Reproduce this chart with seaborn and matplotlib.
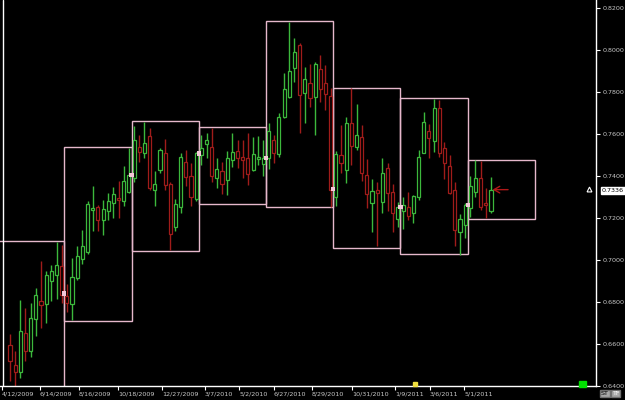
import matplotlib
matplotlib.use("Agg")
import matplotlib.pyplot as plt
import matplotlib.patches as mpatches
from matplotlib import font_manager
import seaborn as sns
import pandas as pd
import numpy as np

# ---- weekly candles (index 1..94) ----
opens = [0.6597, 0.6502, 0.6468, 0.6655, 0.6566, 0.6721, 0.6803, 0.6792, 0.6899, 0.6927,
         0.6970, 0.6831, 0.6792, 0.6915, 0.7005, 0.7037, 0.7240, 0.7255, 0.7192, 0.7236,
         0.7274, 0.7298, 0.7284, 0.7327, 0.7390, 0.7538, 0.7509, 0.7592, 0.7332, 0.7430,
         0.7512, 0.7363, 0.7157, 0.7253, 0.7468, 0.7401, 0.7291, 0.7501, 0.7552, 0.7538,
         0.7393, 0.7425, 0.7382, 0.7478, 0.7520, 0.7493, 0.7489, 0.7430, 0.7481, 0.7459,
         0.7486, 0.7573, 0.7506, 0.7681, 0.7776, 0.7914, 0.8025, 0.7795, 0.7842, 0.7776,
         0.7909, 0.7842, 0.7782, 0.7303, 0.7501, 0.7432, 0.7654, 0.7541, 0.7588, 0.7405,
         0.7273, 0.7335, 0.7279, 0.7438, 0.7327, 0.7195, 0.7236, 0.7255, 0.7227, 0.7300,
         0.7509, 0.7617, 0.7569, 0.7724, 0.7533, 0.7449, 0.7335, 0.7132, 0.7168, 0.7248,
         0.7327, 0.7390, 0.7273, 0.7236]
highs = [0.6650, 0.6566, 0.6812, 0.6773, 0.6797, 0.6869, 0.6994, 0.6946, 0.6975, 0.7086,
         0.7073, 0.6888, 0.7010, 0.7065, 0.7145, 0.7283, 0.7351, 0.7263, 0.7287, 0.7319,
         0.7348, 0.7379, 0.7449, 0.7535, 0.7639, 0.7597, 0.7660, 0.7628, 0.7425, 0.7535,
         0.7576, 0.7373, 0.7291, 0.7509, 0.7525, 0.7462, 0.7517, 0.7597, 0.7605, 0.7631,
         0.7489, 0.7469, 0.7520, 0.7605, 0.7573, 0.7573, 0.7605, 0.7588, 0.7593, 0.7573,
         0.7656, 0.7597, 0.7703, 0.7893, 0.8136, 0.8057, 0.8034, 0.7921, 0.7934, 0.7945,
         0.7977, 0.7930, 0.7819, 0.7520, 0.7644, 0.7682, 0.7819, 0.7743, 0.7646, 0.7484,
         0.7389, 0.7374, 0.7486, 0.7462, 0.7363, 0.7279, 0.7300, 0.7327, 0.7311, 0.7525,
         0.7707, 0.7649, 0.7766, 0.7763, 0.7565, 0.7501, 0.7374, 0.7221, 0.7272, 0.7401,
         0.7478, 0.7474, 0.7343, 0.7398]
lows = [0.6423, 0.6383, 0.6436, 0.6521, 0.6537, 0.6640, 0.6677, 0.6702, 0.6807, 0.6816,
        0.6797, 0.6754, 0.6716, 0.6907, 0.6983, 0.7030, 0.7141, 0.7141, 0.7121, 0.7192,
        0.7200, 0.7200, 0.7260, 0.7321, 0.7374, 0.7469, 0.7486, 0.7332, 0.7259, 0.7414,
        0.7335, 0.7046, 0.7141, 0.7224, 0.7351, 0.7259, 0.7284, 0.7454, 0.7486, 0.7374,
        0.7343, 0.7314, 0.7311, 0.7446, 0.7438, 0.7390, 0.7359, 0.7425, 0.7454, 0.7401,
        0.7435, 0.7465, 0.7493, 0.7676, 0.7771, 0.7850, 0.7605, 0.7652, 0.7728, 0.7597,
        0.7755, 0.7715, 0.7255, 0.7256, 0.7414, 0.7366, 0.7454, 0.7525, 0.7378, 0.7248,
        0.7136, 0.7065, 0.7227, 0.7232, 0.7136, 0.7160, 0.7148, 0.7189, 0.7179, 0.7287,
        0.7509, 0.7486, 0.7517, 0.7493, 0.7386, 0.7316, 0.7068, 0.7026, 0.7105, 0.7205,
        0.7303, 0.7240, 0.7200, 0.7227]
closes = [0.6517, 0.6468, 0.6661, 0.6566, 0.6726, 0.6835, 0.6788, 0.6930, 0.6949, 0.6978,
          0.6835, 0.6794, 0.6920, 0.7021, 0.7068, 0.7268, 0.7248, 0.7192, 0.7244, 0.7283,
          0.7316, 0.7287, 0.7378, 0.7406, 0.7573, 0.7517, 0.7557, 0.7343, 0.7363, 0.7525,
          0.7359, 0.7126, 0.7267, 0.7490, 0.7395, 0.7300, 0.7509, 0.7533, 0.7573, 0.7403,
          0.7435, 0.7362, 0.7486, 0.7514, 0.7486, 0.7478, 0.7410, 0.7505, 0.7493, 0.7486,
          0.7616, 0.7509, 0.7681, 0.7814, 0.7901, 0.7990, 0.7787, 0.7862, 0.7771, 0.7934,
          0.7815, 0.7792, 0.7335, 0.7506, 0.7465, 0.7652, 0.7544, 0.7596, 0.7414, 0.7313,
          0.7329, 0.7319, 0.7417, 0.7319, 0.7224, 0.7253, 0.7263, 0.7211, 0.7306, 0.7493,
          0.7657, 0.7581, 0.7724, 0.7512, 0.7462, 0.7322, 0.7145, 0.7195, 0.7263, 0.7354,
          0.7390, 0.7255, 0.7263, 0.7336]

# ---- quarterly range boxes ----
box_first = [-1, 12, 25, 38, 51, 64, 77, 90]
box_high = [0.7092, 0.7539, 0.7663, 0.7635, 0.8139, 0.7820, 0.7773, 0.7478]
box_low = [0.6360, 0.6712, 0.7045, 0.7268, 0.7255, 0.7059, 0.7030, 0.7197]
box_open = [np.nan, 0.6840, 0.7406, 0.7509, 0.7488, 0.7338, 0.7253, 0.7263]

# ---- axis labels ----
date_labels = ["4/12/2009", "6/14/2009", "8/16/2009", "10/18/2009", "12/27/2009",
               "3/7/2010", "5/2/2010", "6/27/2010", "8/29/2010", "10/31/2010",
               "1/9/2011", "3/6/2011", "5/1/2011"]
date_pos = [-0.6, 6.8, 14.3, 21.9, 30.4, 38.7, 45.3, 52.0, 59.4, 67.1, 75.4, 82.2, 88.8]
price_ticks = [0.64, 0.66, 0.68, 0.70, 0.72, 0.74, 0.76, 0.78, 0.80, 0.82]
last_price = 0.7336

sns.set_theme(style="dark", rc={"axes.facecolor": "black", "figure.facecolor": "black",
                                "axes.grid": False})
avail = {f.name for f in font_manager.fontManager.ttflist}
narrow = "Liberation Sans Narrow" if "Liberation Sans Narrow" in avail else "DejaVu Sans"
plt.rcParams["font.family"] = [narrow, "DejaVu Sans"]
FS = 5.6 if narrow != "DejaVu Sans" else 4.6

df = pd.DataFrame({"idx": np.arange(1, len(opens) + 1), "open": opens, "high": highs,
                   "low": lows, "close": closes})
df["up"] = df["close"] >= df["open"]

GREEN = "#3cb83c"
RED = "#a01c1a"
PINK = "#e6b8cc"

fig = plt.figure(figsize=(6.25, 4.0), dpi=100)
ax = fig.add_axes([0, 14 / 400, 596 / 625, 386 / 400])
ax.set_facecolor("black")

# boxes
for f, h, l in zip(box_first, box_high, box_low):
    ax.add_patch(mpatches.Rectangle((f - 0.5, l), 13, h - l, fill=False,
                                    edgecolor=PINK, linewidth=1.0, zorder=1))

# candles
colors = np.where(df["up"], GREEN, RED)
ax.vlines(df["idx"], df["low"], df["high"], colors=colors, linewidth=1.0, zorder=2)
bottoms = np.minimum(df["open"], df["close"])
heights = np.maximum(np.abs(df["close"] - df["open"]), 0.0003)
ax.bar(df["idx"], heights, bottom=bottoms, width=0.6, color="black",
       edgecolor=colors, linewidth=0.9, zorder=3)

# quarter-open markers
bo = pd.DataFrame({"x": np.array(box_first) - 0.5, "y": box_open}).dropna()
sns.scatterplot(data=bo, x="x", y="y", ax=ax, marker="s", s=10, color="#f4c8d8",
                edgecolor="none", zorder=4, legend=False)

# arrow at last price
ax.annotate("", xy=(94.3, last_price), xytext=(97.3, last_price),
            arrowprops=dict(arrowstyle="->,head_length=0.35,head_width=0.2",
                            color="#b01818", lw=1.0, shrinkA=0, shrinkB=0))

ax.set_xlim(-0.93, 114.3)
ax.set_ylim(0.64, 0.824)
ax.axvline(-0.41, color="white", lw=1.0)

for s in ["top", "left"]:
    ax.spines[s].set_visible(False)
for s in ["right", "bottom"]:
    ax.spines[s].set_visible(True)
    ax.spines[s].set_color("white")
    ax.spines[s].set_linewidth(1.0)

ax.yaxis.tick_right()
ax.set_yticks(price_ticks)
ax.set_yticklabels([f"{v:.4f}" for v in price_ticks])
ax.tick_params(axis="y", colors="white", labelcolor="#c8c8c8", length=3, width=0.8,
               labelsize=FS, pad=1.5, right=True, left=False)
ax.set_xticks(date_pos)
ax.set_xticklabels(date_labels, ha="left")
ax.tick_params(axis="x", colors="white", labelcolor="#c8c8c8", length=3, width=0.8,
               labelsize=FS, pad=1, bottom=True)
ax.set_xlabel("")
ax.set_ylabel("")

# last price label
fig.text(602 / 625, 1 - 190.5 / 400, f"{last_price:.4f}", fontsize=FS, color="black",
         va="center", ha="left",
         bbox=dict(boxstyle="square,pad=0.2", facecolor="white", edgecolor="white"))
ax.plot([113.0], [last_price + 0.0003], marker="^", ms=3.5, mfc="none", mec="white", mew=0.8,
        clip_on=False)

# small markers
ax.add_patch(mpatches.Rectangle((111.1, 0.6397), 1.2, 0.0027, color="#00e000",
                                clip_on=False, zorder=5))
ax.plot([79.3], [0.6408], marker="s", ms=2.5, color="#f0e040", clip_on=False, zorder=5)
fig.text(601 / 625, 1 - 393.5 / 400, "ST", fontsize=FS, color="black", va="center",
         bbox=dict(boxstyle="square,pad=0.1", facecolor="#a8a8a8", edgecolor="#707070"))
fig.text(612 / 625, 1 - 393.5 / 400, "TF", fontsize=FS, color="white", va="center",
         bbox=dict(boxstyle="square,pad=0.1", facecolor="#a8a8a8", edgecolor="#707070"))

fig.savefig("out.png", dpi=100, facecolor="black")
